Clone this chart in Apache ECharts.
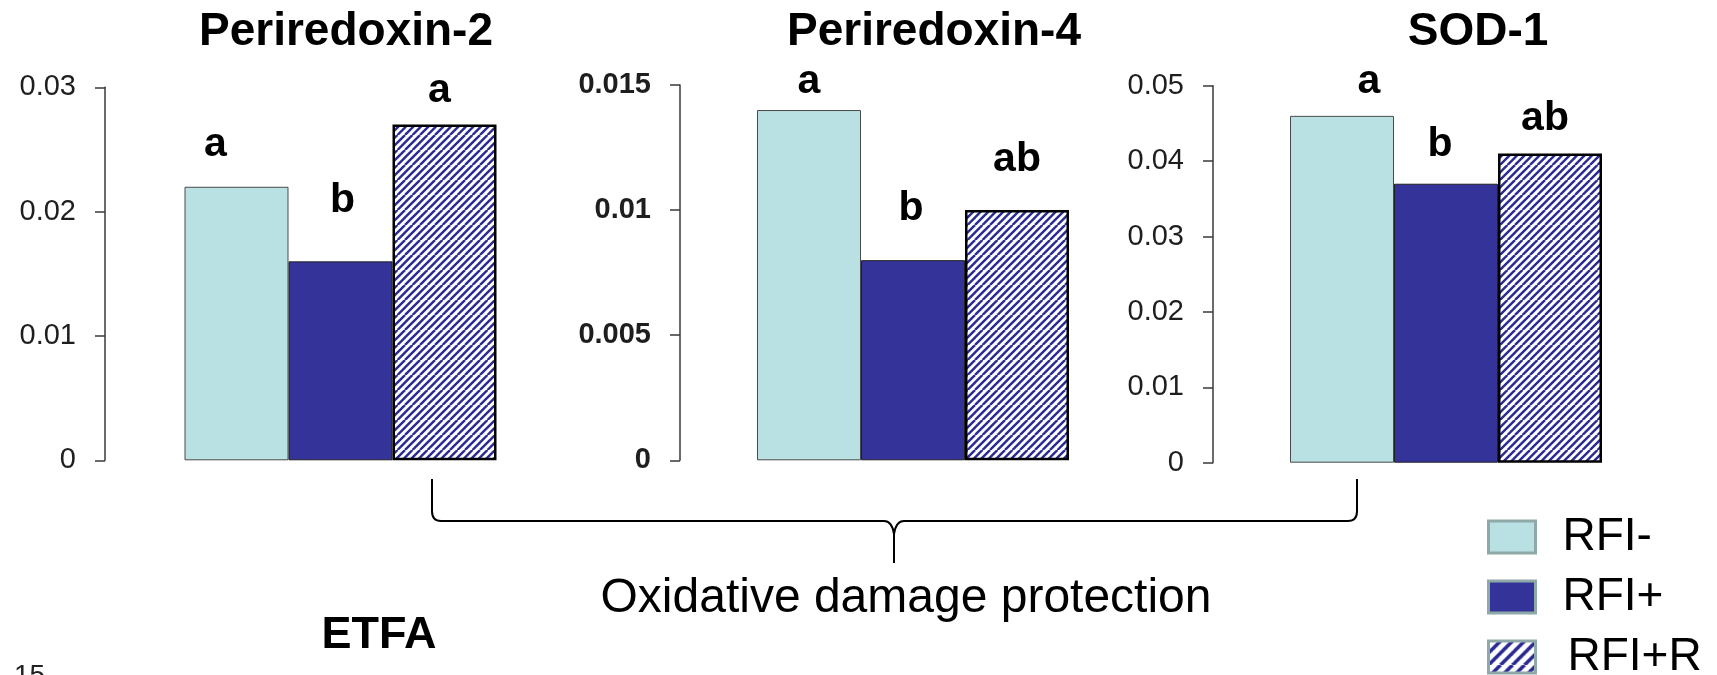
<!DOCTYPE html>
<html>
<head>
<meta charset="utf-8">
<script src="https://cdn.jsdelivr.net/npm/echarts@6/dist/echarts.min.js"></script>
<style>
html,body{margin:0;padding:0;background:#fff;}
#c{width:1717px;height:675px;}
</style>
</head>
<body>
<div id="c"></div>
<script>
// ---- data ----
const groups = ['RFI-', 'RFI+', 'RFI+R'];
const proteins = ['Periredoxin-2', 'Periredoxin-4', 'SOD-1'];
const prx2Values = [0.022, 0.016, 0.027];
const prx4Values = [0.014, 0.008, 0.010];
const sod1Values = [0.046, 0.037, 0.041];
const prx2Letters = ['a', 'b', 'a'];
const prx4Letters = ['a', 'b', 'ab'];
const sod1Letters = ['a', 'b', 'ab'];
const yMax = [0.03, 0.015, 0.05];
const yStep = [0.01, 0.005, 0.01];
const pathwayLabel = 'Oxidative damage protection';
const sideLabel = 'ETFA';
const pageNumber = '15';

// ---- layout / style ----
const FONT = '"Liberation Sans", Arial, Helvetica, sans-serif';
const values = [prx2Values, prx4Values, sod1Values];
const letters = [prx2Letters, prx4Letters, sod1Letters];
const grids = [
  {left: 105, top: 87.3, width: 471, height: 373},
  {left: 680, top: 85, width: 466, height: 375.3},
  {left: 1213, top: 85.7, width: 466, height: 377}
];
const letterOffsets = [
  [[-21, -42], [2, -61], [-5, -34]],
  [[0, -28], [-2, -51], [0, -50]],
  [[27, -34], [-6, -39], [-5, -35]]
];
const tickBold = [false, true, false];
const titleX = [346, 934, 1478];
const legendTextPad = [22, 22, 27];

function makeHatch(s, lw) {
  const c = document.createElement('canvas');
  c.width = s; c.height = s;
  const g = c.getContext('2d');
  g.fillStyle = '#ffffff';
  g.fillRect(0, 0, s, s);
  g.strokeStyle = '#2b2a93';
  g.lineWidth = lw;
  for (let k = -2; k <= 2; k++) {
    const o = k * s / 2;
    g.beginPath();
    g.moveTo(o, s);
    g.lineTo(o + s, 0);
    g.stroke();
  }
  return c;
}
const hatch = {image: makeHatch(15, 2.4), repeat: 'repeat'};
const legendHatch = {image: makeHatch(24, 3.6), repeat: 'repeat'};
const groupStyles = [
  {color: '#b9e0e2', borderColor: '#4a4a4a', borderWidth: 1},
  {color: '#343399', borderColor: '#222', borderWidth: 1},
  {color: hatch, borderColor: '#000', borderWidth: 2.5}
];
const legendFills = ['#b9e0e2', '#343399', legendHatch];

const chart = echarts.init(document.getElementById('c'), null, {renderer: 'canvas'});

const option = {
  animation: false,
  backgroundColor: '#fff',
  grid: grids.map(g => Object.assign({containLabel: false}, g)),
  xAxis: grids.map((g, i) => ({
    type: 'category', gridIndex: i, data: [proteins[i]], show: false
  })),
  yAxis: grids.map((g, i) => ({
    type: 'value', gridIndex: i, min: 0, max: yMax[i], interval: yStep[i],
    axisLine: {show: true, lineStyle: {color: '#3a3a3a', width: 1.5}},
    axisTick: {show: true, length: 10, lineStyle: {color: '#3a3a3a', width: 1.5}},
    splitLine: {show: false},
    axisLabel: {
      margin: 29, fontSize: 29, fontFamily: FONT,
      fontWeight: tickBold[i] ? 'bold' : 'normal',
      color: '#1e1e1e'
    }
  })),
  legend: {
    orient: 'vertical', left: 1487, top: 514, height: 240, padding: 0,
    itemWidth: 47, itemHeight: 32, itemGap: 14, icon: 'rect',
    selectedMode: false,
    textStyle: {fontSize: 46, fontFamily: FONT, color: '#000', lineHeight: 36},
    data: groups.map((n, k) => ({
      name: n,
      itemStyle: {color: legendFills[k], borderColor: '#8fa8a8', borderWidth: 3},
      textStyle: {padding: [0, 0, 0, legendTextPad[k]]}
    }))
  },
  series: [],
  graphic: []
};

values.forEach((vals, i) => {
  vals.forEach((v, gi) => {
    option.series.push({
      type: 'bar', name: groups[gi], xAxisIndex: i, yAxisIndex: i,
      data: [v], barWidth: 104, barGap: '0%',
      itemStyle: groupStyles[gi],
      label: {
        show: true, position: 'top', distance: 0,
        formatter: letters[i][gi],
        verticalAlign: 'middle', align: 'center',
        offset: letterOffsets[i][gi],
        fontSize: 41, fontWeight: 'bold', fontFamily: FONT, color: '#000'
      }
    });
  });
  option.graphic.push({
    type: 'text', x: titleX[i], y: 32,
    style: {text: proteins[i], align: 'center', verticalAlign: 'middle',
      fontSize: 46, fontWeight: 'bold', fontFamily: FONT, fill: '#000'}
  });
});

// brace
const braceStyle = {stroke: '#000', lineWidth: 2, fill: null};
const braceLines = [
  [432, 479, 432, 511], [441, 521, 884, 521], [894, 534, 894, 563],
  [904, 521, 1348, 521], [1357, 511, 1357, 479]
];
const braceCurves = [
  [432, 511, 432, 521, 441, 521], [884, 521, 892, 521, 894, 534],
  [894, 534, 896, 521, 904, 521], [1348, 521, 1357, 521, 1357, 511]
];
braceLines.forEach(l => option.graphic.push({
  type: 'line', shape: {x1: l[0], y1: l[1], x2: l[2], y2: l[3]}, style: braceStyle
}));
braceCurves.forEach(b => option.graphic.push({
  type: 'bezierCurve',
  shape: {x1: b[0], y1: b[1], cpx1: b[2], cpy1: b[3], x2: b[4], y2: b[5]},
  style: braceStyle
}));
option.graphic.push({
  type: 'text', x: 906, y: 599,
  style: {text: pathwayLabel, align: 'center', verticalAlign: 'middle',
    fontSize: 48, fontFamily: FONT, fill: '#000'}
});
option.graphic.push({
  type: 'text', x: 379, y: 636,
  style: {text: sideLabel, align: 'center', verticalAlign: 'middle',
    fontSize: 45, fontWeight: 'bold', fontFamily: FONT, fill: '#000'}
});
option.graphic.push({
  type: 'text', x: 14, y: 662,
  style: {text: pageNumber, align: 'left', verticalAlign: 'top',
    fontSize: 28, fontFamily: FONT, fill: '#222'}
});

chart.setOption(option);
</script>
</body>
</html>
